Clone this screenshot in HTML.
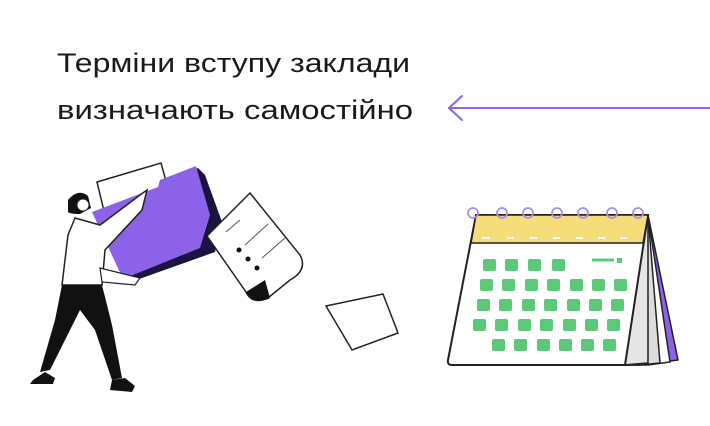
<!DOCTYPE html>
<html><head><meta charset="utf-8"><style>
html,body{margin:0;padding:0;background:#fff;width:710px;height:426px;overflow:hidden}
</style></head><body>
<svg width="710" height="426" viewBox="0 0 710 426" xmlns="http://www.w3.org/2000/svg">
<text x="57" y="72" font-family="Liberation Sans, sans-serif" font-size="27" fill="#1a1a1a" textLength="353" lengthAdjust="spacingAndGlyphs">Терміни вступу заклади</text>
<text x="57" y="119" font-family="Liberation Sans, sans-serif" font-size="27" fill="#1a1a1a" textLength="356" lengthAdjust="spacingAndGlyphs">визначають  самостійно</text>
<g stroke="#8b62e8" stroke-width="2" fill="none" stroke-linecap="round">
<line x1="449" y1="108" x2="710" y2="108"/>
<polyline points="462,96 449,108 462,120"/>
</g>
<polygon points="326,306 383,294 398,333 352,350" fill="#fff" stroke="#222" stroke-width="1.5"/>
<polygon points="97,182 161,163 170,195 105,215" fill="#fff" stroke="#222" stroke-width="1.5"/>
<polygon points="95,216 160,190 162,182 198,168 205,175 222,222 215,252 128,283" fill="#1b1440"/>
<polygon points="92,212 158,187 160,180 196,166 210,215 200,248 123,279" fill="#8b62e8"/>
<path d="M207,236 L250,193 L300,255 Q308,270 290,280 L268,298 Q252,305 246,292 Z" fill="#fff" stroke="#222" stroke-width="1.5"/>
<path d="M246,292 L265,280 L270,298 Q255,306 246,292Z" fill="#111"/>
<circle cx="239" cy="250" r="2.5" fill="#111"/><circle cx="248" cy="259" r="2.5" fill="#111"/><circle cx="257" cy="268" r="2.5" fill="#111"/>
<g stroke="#555" stroke-width="1"><line x1="226" y1="232" x2="240" y2="220"/><line x1="245" y1="245" x2="268" y2="224"/><line x1="262" y1="258" x2="285" y2="238"/></g>
<path d="M68,200 Q78,188 88,196 L91,208 L80,214 Q70,214 68,212 Z" fill="#111"/>
<circle cx="83" cy="205" r="6" fill="#fff" stroke="#222" stroke-width="1"/>
<path d="M75,218 L100,225 L140,195 L147,190 L142,210 L105,250 L102,285 L62,285 L68,235 Z" fill="#fff" stroke="#222" stroke-width="1.5"/>
<path d="M100,268 L140,278 L135,285 L102,282Z" fill="#fff" stroke="#222" stroke-width="1.2"/>
<path d="M62,285 L102,285 L112,325 L122,378 L112,380 L95,330 L80,310 L50,370 L40,372 L55,320 Z" fill="#111"/>
<path d="M33,380 L45,372 L55,378 L53,384 L30,384Z" fill="#111"/>
<path d="M112,380 L125,378 L135,386 L132,392 L110,390Z" fill="#111"/>
<polygon points="648,215 678,360 640,365 623,365" fill="#8b62e8" stroke="#222" stroke-width="1.5"/>
<polygon points="648,215 670,362 648,365 623,365" fill="#fff" stroke="#222" stroke-width="1.5"/>
<polygon points="648,215 660,363 640,365 623,365" fill="#ddd" stroke="#222" stroke-width="1.5"/>
<polygon points="648,215 648,363 623,365" fill="#e5e5e5" stroke="#222" stroke-width="1.5"/>
<path d="M476,215 L648,215 L625,365 L452,365 Q447,365 448,360 Z" fill="#fff" stroke="#222" stroke-width="2"/>
<path d="M476,215 L648,215 L643,243 L471,243 Z" fill="#f6dd7c" stroke="#222" stroke-width="1.5"/>
<g stroke="#fff" stroke-width="2"><line x1="482" y1="238" x2="490" y2="238"/><line x1="507" y1="238" x2="514" y2="238"/><line x1="530" y1="238" x2="537" y2="238"/><line x1="553" y1="238" x2="560" y2="238"/><line x1="576" y1="238" x2="583" y2="238"/><line x1="598" y1="238" x2="605" y2="238"/><line x1="620" y1="238" x2="627" y2="238"/></g>
<g fill="none" stroke="#a98ee6" stroke-width="1.8">
<circle cx="473" cy="213" r="5"/><circle cx="502" cy="213" r="5"/><circle cx="528" cy="213" r="5"/><circle cx="557" cy="213" r="5"/><circle cx="583" cy="213" r="5"/><circle cx="612" cy="213" r="5"/><circle cx="638" cy="213" r="5"/>
</g>
<line x1="592" y1="260" x2="614" y2="260" stroke="#5cc978" stroke-width="3"/>
<rect x="617" y="258" width="5" height="5" fill="#5cc978"/>
<g fill="#5cc978">
<rect x="483" y="259" width="13" height="12" rx="2"/><rect x="505" y="259" width="13" height="12" rx="2"/><rect x="528" y="259" width="13" height="12" rx="2"/><rect x="552" y="259" width="13" height="12" rx="2"/>
<rect x="480" y="279" width="13" height="12" rx="2"/><rect x="502" y="279" width="13" height="12" rx="2"/><rect x="525" y="279" width="13" height="12" rx="2"/><rect x="547" y="279" width="13" height="12" rx="2"/><rect x="570" y="279" width="13" height="12" rx="2"/><rect x="592" y="279" width="13" height="12" rx="2"/><rect x="614" y="279" width="13" height="12" rx="2"/>
<rect x="477" y="299" width="13" height="12" rx="2"/><rect x="499" y="299" width="13" height="12" rx="2"/><rect x="522" y="299" width="13" height="12" rx="2"/><rect x="544" y="299" width="13" height="12" rx="2"/><rect x="567" y="299" width="13" height="12" rx="2"/><rect x="589" y="299" width="13" height="12" rx="2"/><rect x="611" y="299" width="13" height="12" rx="2"/>
<rect x="473" y="319" width="13" height="12" rx="2"/><rect x="495" y="319" width="13" height="12" rx="2"/><rect x="518" y="319" width="13" height="12" rx="2"/><rect x="540" y="319" width="13" height="12" rx="2"/><rect x="563" y="319" width="13" height="12" rx="2"/><rect x="585" y="319" width="13" height="12" rx="2"/><rect x="607" y="319" width="13" height="12" rx="2"/>
<rect x="492" y="339" width="13" height="12" rx="2"/><rect x="514" y="339" width="13" height="12" rx="2"/><rect x="537" y="339" width="13" height="12" rx="2"/><rect x="559" y="339" width="13" height="12" rx="2"/><rect x="581" y="339" width="13" height="12" rx="2"/><rect x="603" y="339" width="13" height="12" rx="2"/>
</g>
</svg>
</body></html>
